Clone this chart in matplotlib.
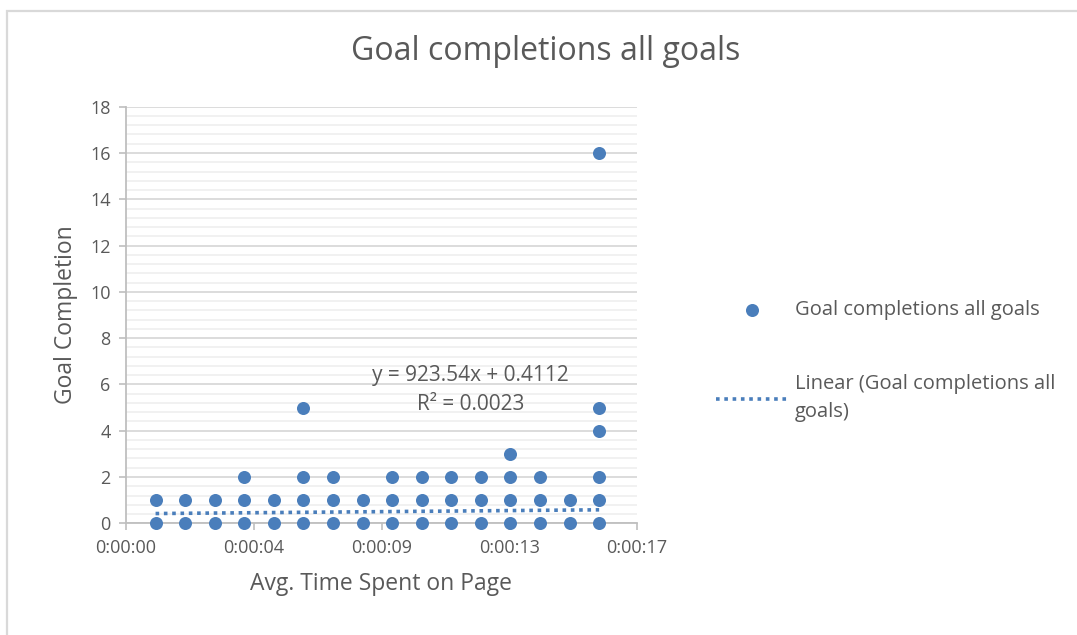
import matplotlib
matplotlib.use("Agg")
import matplotlib.pyplot as plt
import matplotlib.patches as patches
from matplotlib.ticker import FixedLocator, MultipleLocator
import numpy as np

plt.rcParams['font.family'] = ['Open Sans', 'DejaVu Sans']

# average time on page (seconds) and goal completions per page
avg_time_s = [1, 1,
              2, 2,
              3, 3,
              4, 4, 4,
              5, 5,
              6, 6, 6, 6,
              7, 7, 7,
              8, 8,
              9, 9, 9,
              10, 10, 10,
              11, 11, 11,
              12, 12, 12,
              13, 13, 13, 13,
              14, 14, 14,
              15, 15,
              16, 16, 16, 16, 16, 16]
goal_completions = [0, 1,
                    0, 1,
                    0, 1,
                    0, 1, 2,
                    0, 1,
                    0, 1, 2, 5,
                    0, 1, 2,
                    0, 1,
                    0, 1, 2,
                    0, 1, 2,
                    0, 1, 2,
                    0, 1, 2,
                    0, 1, 2, 3,
                    0, 1, 2,
                    0, 1,
                    0, 1, 2, 4, 5, 16]

# linear trendline (x in days, as the spreadsheet stores time)
trend_slope = 923.54
trend_intercept = 0.4112
trend_r2 = 0.0023

x_ticks_s = [0, 4.32, 8.64, 12.96, 17.28]
x_tick_labels = ['0:00:00', '0:00:04', '0:00:09', '0:00:13', '0:00:17']
y_ticks = [0, 2, 4, 6, 8, 10, 12, 14, 16, 18]

W, H = 1077, 635
fig = plt.figure(figsize=(W / 100, H / 100), dpi=100)

blue = '#4a7ebb'
text_col = '#595959'
grid_major = '#d9d9d9'
grid_minor = '#ededed'

# outer chart frame
fig.patches.append(patches.Rectangle((7 / W, -0.1), 1.2, 1 - 11 / H + 0.1,
                                     transform=fig.transFigure, fill=False,
                                     edgecolor='#d9d9d9', linewidth=1.6))

left, right, top, bottom = 126, 637, 106.7, 523.3
ax = fig.add_axes([left / W, 1 - bottom / H, (right - left) / W, (bottom - top) / H])

ax.set_xlim(0, 17.28)
ax.set_ylim(0, 18)

ax.scatter(avg_time_s, goal_completions, s=88, color=blue, zorder=3,
           clip_on=False, label='Goal completions all goals', linewidths=0)

tx = np.array([min(avg_time_s), max(avg_time_s)], dtype=float)
ty = trend_slope * tx / 86400 + trend_intercept
ax.plot(tx, ty, color=blue, linestyle=(0, (1, 1.3)), linewidth=2.6, zorder=4,
        label='Linear (Goal completions all\ngoals)')

# trendline equation and R²
ax.text(11.65, 6.38, f'y = {trend_slope}x + {trend_intercept}', ha='center',
        va='center', fontsize=15, color=text_col)
ax.text(11.65, 5.12, f'R² = {trend_r2}', ha='center', va='center',
        fontsize=15, color=text_col)

ax.xaxis.set_major_locator(FixedLocator(x_ticks_s))
ax.set_xticklabels(x_tick_labels)
ax.yaxis.set_major_locator(FixedLocator(y_ticks))
ax.yaxis.set_minor_locator(MultipleLocator(0.4))

ax.grid(axis='y', which='major', color=grid_major, linewidth=1.3, zorder=0)
ax.grid(axis='y', which='minor', color=grid_minor, linewidth=1.1, zorder=0)
ax.set_axisbelow(True)

for s in ['top', 'right']:
    ax.spines[s].set_visible(False)
for s in ['left', 'bottom']:
    ax.spines[s].set_color('#bfbfbf')
    ax.spines[s].set_linewidth(1.3)

ax.tick_params(axis='both', which='major', length=5, width=1.2, color='#bfbfbf',
               labelsize=13, labelcolor=text_col, pad=6)
ax.tick_params(axis='y', which='minor', length=0)

ax.set_xlabel('Avg. Time Spent on Page', fontsize=16.5, color=text_col, labelpad=11)
ax.set_ylabel('Goal Completion', fontsize=16.5, color=text_col, labelpad=9)

fig.text(546 / W, 1 - 52 / H, 'Goal completions all goals', ha='center',
         va='center', fontsize=23, color=text_col)

leg = fig.legend(loc='upper left', bbox_to_anchor=(708 / W, 1 - 292 / H),
                 frameon=False, fontsize=14.5, labelcolor=text_col,
                 handlelength=3.6, handletextpad=0.3, labelspacing=2.7,
                 borderaxespad=0)
leg.get_texts()[1].set_linespacing(1.5)

fig.savefig('out.png', dpi=100)
